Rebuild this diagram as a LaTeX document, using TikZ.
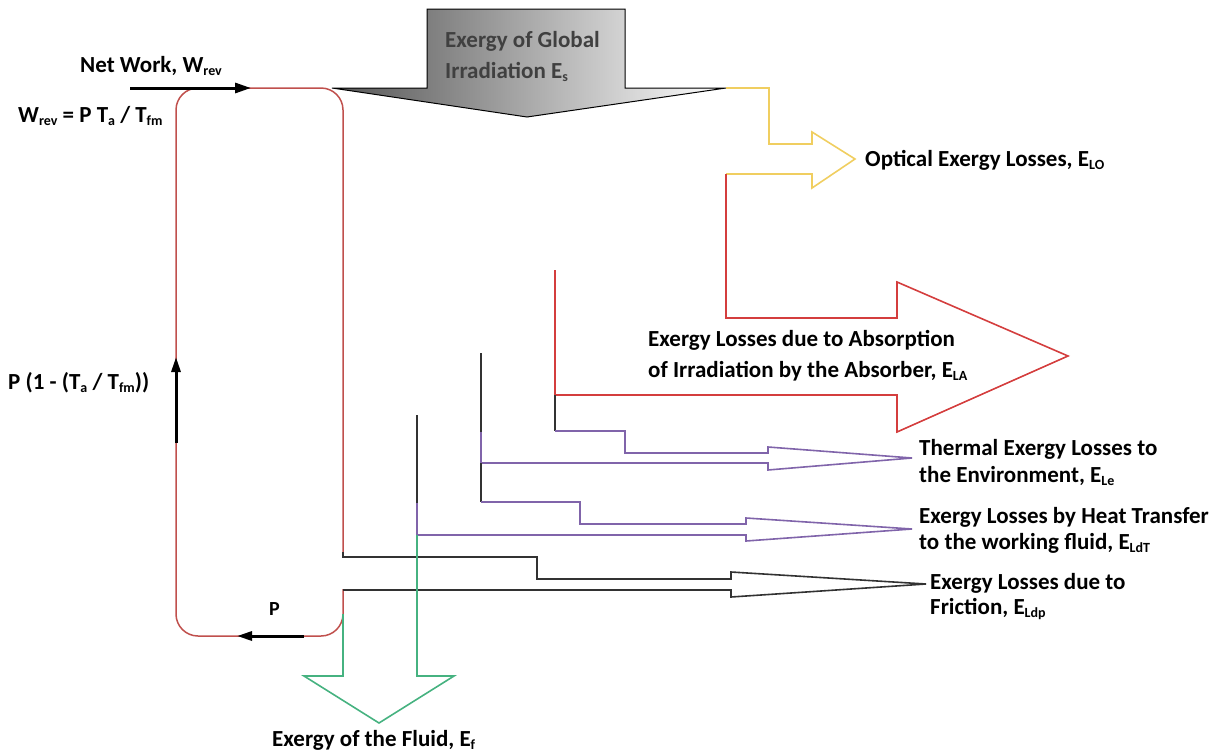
\documentclass[tikz,border=0pt]{standalone}
\usepackage{fontspec}
\setmainfont{Carlito}
\usetikzlibrary{arrows.meta}
\definecolor{loopred}{RGB}{192,80,77}
\definecolor{optyel}{RGB}{240,206,96}
\definecolor{absred}{RGB}{212,62,62}
\definecolor{lospur}{RGB}{128,100,170}
\definecolor{flugreen}{RGB}{70,178,128}
\definecolor{fricgray}{RGB}{50,50,50}
\definecolor{toptxt}{RGB}{64,64,64}
\newcommand\sbx[1]{\raisebox{-0.14em}{\fontsize{14}{14}\selectfont #1}}
\begin{document}
\begin{tikzpicture}[x=1pt,y=-1pt,
  lbl/.style={anchor=base west, inner sep=0pt, font=\fontsize{23}{27}\selectfont\bfseries},
  flow/.style={line width=1.6pt, line join=miter, line cap=butt},
  workarrow/.style={line width=3pt, -{Triangle[length=16pt,width=10pt]}}]
\useasboundingbox (0,0) rectangle (1228,755);

% ---- top gray input arrow
\shade[left color={rgb,255:red,85;green,85;blue,85}, right color=white, draw=black, line width=1pt]
  (332,88) -- (427,88) -- (427,9) -- (625,9) -- (625,88) -- (726,88) -- (527,117) -- cycle;
\node[lbl, text=toptxt] (es1) at (445,47) {Exergy of Global};
\node[lbl, text=toptxt] (es2) at (445,78) {Irradiation E\sbx{s}};

% ---- red loop (cycle)
\draw[loopred, line width=1.5pt, rounded corners=22pt]
  (343,552) -- (343,88) -- (176,88) -- (176,636) -- (343,636) -- (343,589);

% ---- optical losses (yellow)
\draw[optyel, flow] (726,88) -- (769,88) -- (769,144) -- (812,144) -- (812,132) -- (855,159)
  -- (812,188) -- (812,174) -- (726,174);
% ---- absorption losses (red)
\draw[absred, flow] (726,174) -- (726,318) -- (897,318) -- (897,282) -- (1068,356)
  -- (897,432) -- (897,395) -- (555,395) -- (555,270);
% ---- thermal losses to environment (purple)
\draw[fricgray, flow] (555,395) -- (555,431);
\draw[lospur, flow] (555,431) -- (625,431) -- (625,453) -- (768,453) -- (768,447) -- (912,458)
  -- (768,470) -- (768,463) -- (481,463) -- (481,432);
\draw[fricgray, flow] (481,432) -- (481,353);
\draw[fricgray, flow] (481,463) -- (481,502);
% ---- heat transfer losses (purple)
\draw[lospur, flow] (481,502) -- (580,502) -- (580,524) -- (746,524) -- (746,518) -- (912,529)
  -- (746,541) -- (746,535) -- (417,535) -- (417,503);
\draw[fricgray, flow] (417,503) -- (417,415);
% ---- friction losses (black)
\draw[fricgray, flow] (343,552) -- (343,557) -- (537,557) -- (537,579) -- (731,579) -- (731,572)
  -- (926,584) -- (731,597) -- (731,590) -- (343,590);
% ---- exergy of the fluid (green)
\draw[flugreen, flow] (343,614) -- (343,676) -- (304,676) -- (379,723) -- (454,676) -- (417,676) -- (417,535);

% ---- work / power arrows
\coordinate (nw0) at (130,88);
\coordinate (nw1) at (251,88);
\draw[workarrow] (nw0) -- (nw1);
\coordinate (pu0) at (176,443);
\coordinate (pu1) at (176,357);
\draw[workarrow, -{Triangle[length=15pt,width=9pt]}] (pu0) -- (pu1);
\coordinate (pb0) at (304,636);
\coordinate (pb1) at (237,636);
\draw[workarrow, -{Triangle[length=15pt,width=9pt]}] (pb0) -- (pb1);

% ---- labels
\node[lbl] (network) at (80,72) {Net Work, W\sbx{rev}};
\node[lbl] (wrev) at (18,122) {W\sbx{rev} = P T\sbx{a} / T\sbx{fm}};
\node[lbl] (ppow) at (8,389) {P (1 - (T\sbx{a} / T\sbx{fm}))};
\node[lbl, font=\fontsize{20}{24}\selectfont\bfseries] (plab) at (269,615) {P};
\node[lbl] (elo) at (865,166) {Optical Exergy Losses, E\sbx{LO}};
\node[lbl] (ela1) at (648,346) {Exergy Losses due to Absorption};
\node[lbl] (ela2) at (648,377) {of Irradiation by the Absorber, E\sbx{LA}};
\node[lbl] (ele1) at (919,455) {Thermal Exergy Losses to};
\node[lbl] (ele2) at (919,482) {the Environment, E\sbx{Le}};
\node[lbl] (eldt1) at (919,523) {Exergy Losses by Heat Transfer};
\node[lbl] (eldt2) at (919,549) {to the working fluid, E\sbx{LdT}};
\node[lbl] (eldp1) at (930,589) {Exergy Losses due to};
\node[lbl] (eldp2) at (930,614) {Friction, E\sbx{Ldp}};
\node[lbl] (ef) at (272,746) {Exergy of the Fluid, E\sbx{f}};
\end{tikzpicture}
\end{document}
